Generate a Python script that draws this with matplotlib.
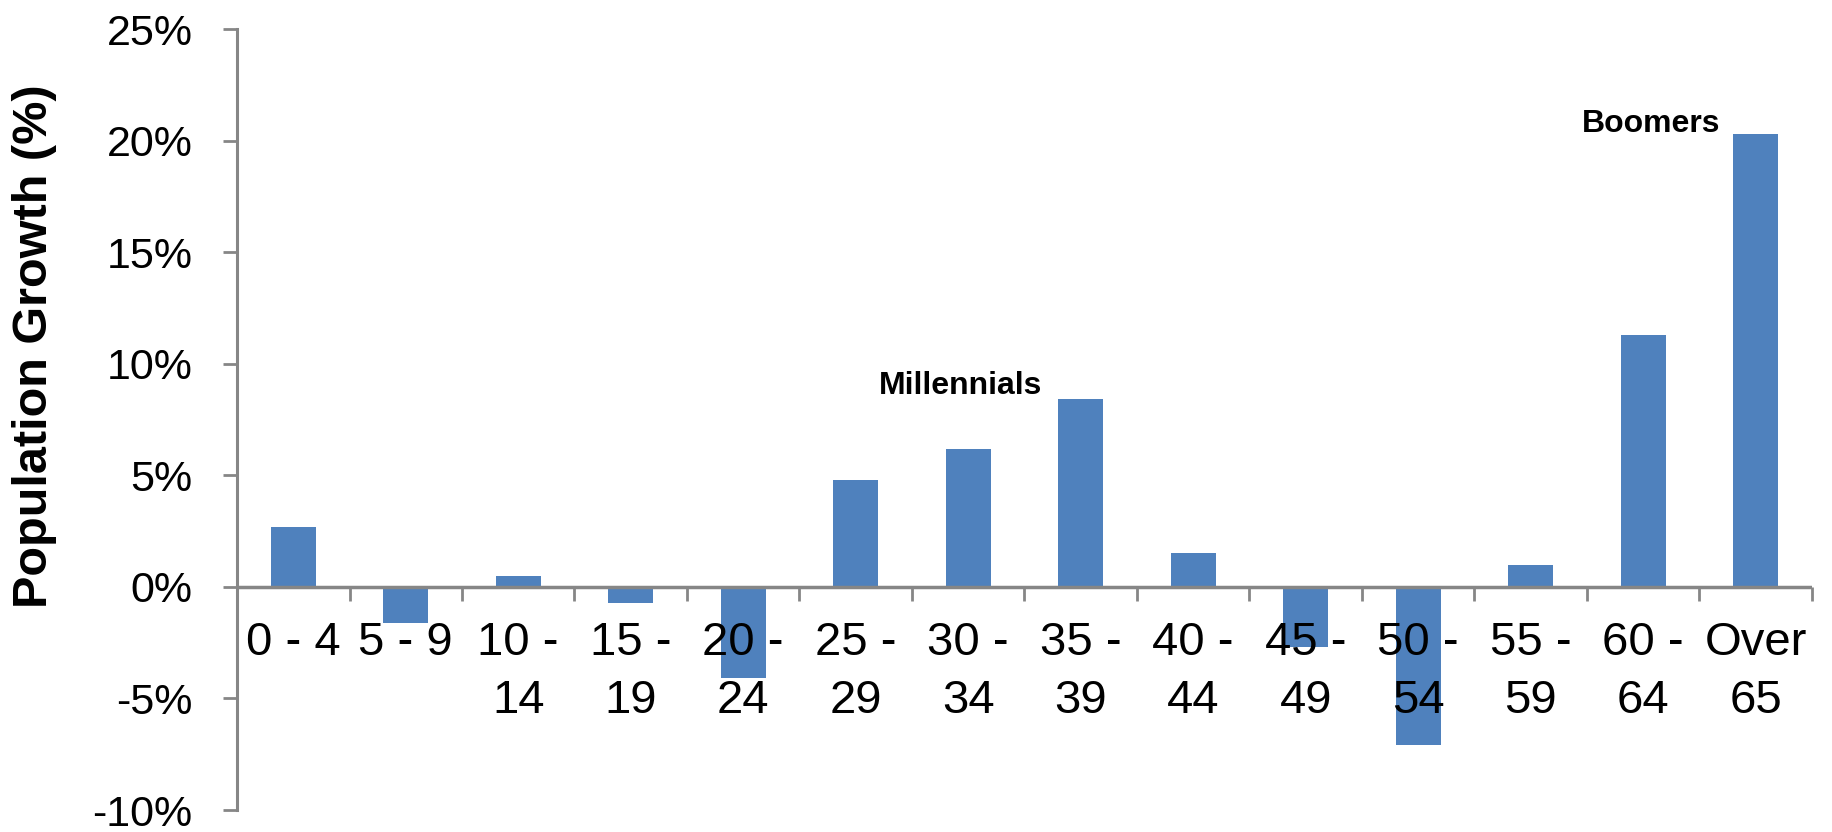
import matplotlib
matplotlib.use("Agg")
import matplotlib.pyplot as plt
from matplotlib.ticker import FixedLocator, PercentFormatter

plt.rcParams["axes.unicode_minus"] = False
plt.rcParams["font.family"] = ["Liberation Sans", "DejaVu Sans"]

categories = ["0 - 4", "5 - 9", "10 -\n14", "15 -\n19", "20 -\n24", "25 -\n29", "30 -\n34",
              "35 -\n39", "40 -\n44", "45 -\n49", "50 -\n54", "55 -\n59", "60 -\n64", "Over\n65"]
growth = [2.7, -1.6, 0.5, -0.7, -4.1, 4.8, 6.2, 8.4, 1.5, -2.7, -7.1, 1.0, 11.3, 20.3]
y_ticks = [-10, -5, 0, 5, 10, 15, 20, 25]
annotations = [("Millennials", 5.93, 8.65), ("Boomers", 12.07, 20.4)]

fig = plt.figure(figsize=(18.33, 8.32), dpi=100)
ax = fig.add_axes([0.1293, 0.0264, 0.8592, 0.9386])

x = list(range(len(categories)))
ax.bar(x, growth, width=0.4, color="#4F81BD", edgecolor="none", zorder=2)

ax.set_xlim(-0.5, len(categories) - 0.5)
ax.set_ylim(-10, 25)
ax.yaxis.set_major_locator(FixedLocator(y_ticks))
ax.yaxis.set_major_formatter(PercentFormatter(decimals=0))

for s in ["top", "right", "bottom"]:
    ax.spines[s].set_visible(False)
ax.spines["left"].set_color("#868686")
ax.spines["left"].set_linewidth(2.2)
ax.axhline(0, color="#868686", lw=2.5, zorder=3)

ax.tick_params(axis="y", direction="out", length=10, width=2, color="#868686",
               pad=22, labelsize=31)

ax.set_xticks(x)
ax.set_xticklabels([])
ax.tick_params(axis="x", length=0)
ax.set_xticks([i + 0.5 for i in x], minor=True)
ax.tick_params(axis="x", which="minor", direction="out", length=10, width=2, color="#868686")
ax.spines["bottom"].set_position(("data", 0))

for i, lab in zip(x, categories):
    ax.text(i, -1.55, lab, ha="center", va="top", fontsize=34,
            linespacing=1.4, zorder=4)

ax.set_ylabel("Population Growth (%)", fontsize=35, fontweight="bold")
ax.yaxis.set_label_coords(-0.1145, 0.594)

for text, xi, yi in annotations:
    ax.text(xi, yi, text, ha="center", va="baseline", fontsize=23, fontweight="bold")

fig.savefig("out.png", dpi=100)
